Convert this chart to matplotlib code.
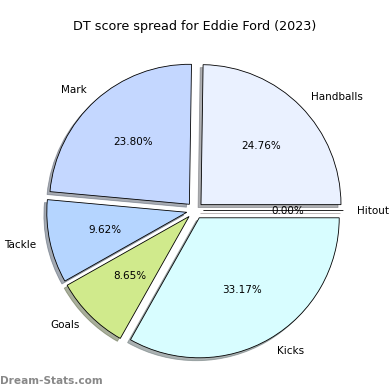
import matplotlib
matplotlib.use("Agg")
import matplotlib.pyplot as plt

labels = ["Handballs", "Mark", "Tackle", "Goals", "Kicks", "Hitout"]
scores = [103, 99, 40, 36, 138, 0]
colors = ["#eaf1ff", "#c4d7ff", "#b5d5ff", "#d0ea8c", "#d8fdff", "#ffe0e0"]
explode = [0.06] * len(labels)

fig = plt.figure(figsize=(3.9, 3.9), dpi=100)
ax = fig.add_axes([0, 0, 1, 1])
ax.pie(scores, labels=labels, colors=colors, explode=explode,
       autopct="%1.2f%%", startangle=0,
       shadow={"ox": -0.015, "oy": -0.015, "shade": 0.6},
       wedgeprops={"edgecolor": "black", "linewidth": 0.6},
       textprops={"fontsize": 7.5})
# pie scale ~140 px per unit, centre at (195, 210) px
ax.set_xlim(-1.393, 1.393)
ax.set_ylim(-1.282, 1.504)
ax.set_aspect("equal")
ax.axis("off")

fig.text(0.5, 0.933, "DT score spread for Eddie Ford (2023)", fontsize=9.2,
         ha="center", va="center")
fig.text(0.0, 0.015, "Dream-Stats.com", fontsize=7.6, color="#888888",
         fontweight="bold")

plt.savefig("out.png", dpi=100)
